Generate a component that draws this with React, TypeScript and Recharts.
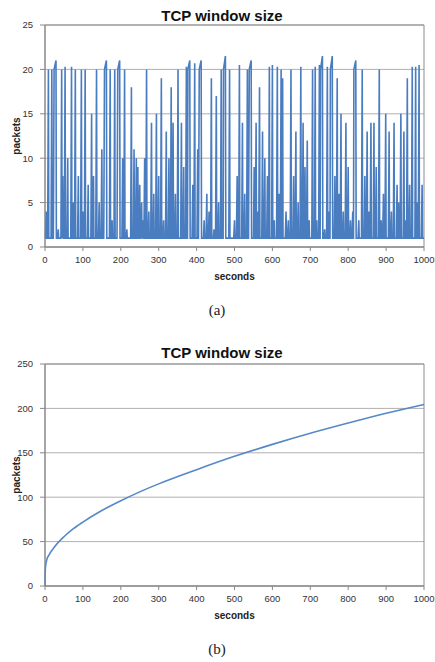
import React from 'react';
import { LineChart, Line, XAxis, YAxis, CartesianGrid, ReferenceArea } from 'recharts';

const secondTicks = [0, 100, 200, 300, 400, 500, 600, 700, 800, 900, 1000];
const packetTicksA = [0, 5, 10, 15, 20, 25];
const packetTicksB = [0, 50, 100, 150, 200, 250];

// (a) congestion window trace: [seconds, packets]
const windowTraceA: [number, number][] = [
  [0, 1], [1, 1], [3, 4], [4, 1], [7, 1], [9, 20], [10, 1], [16, 1], [18, 20], [19, 1],
  [22, 1], [24, 20], [29, 21], [30, 1], [33, 1], [35, 2], [36, 1], [42, 1], [44, 20], [45, 1],
  [47, 8], [48, 1], [51, 1], [53, 20.3], [54, 1], [58, 1], [60, 10], [61, 1], [68, 1], [70, 20.3],
  [71, 1], [73, 1], [75, 5], [76, 1], [78, 1], [80, 20], [81, 1], [86, 1], [88, 8], [89, 1],
  [94, 1], [96, 20], [97, 1], [98, 1], [100, 4], [101, 1], [104, 1], [106, 20], [107, 1], [112, 1],
  [114, 7], [115, 1], [121, 1], [123, 15], [124, 1], [126, 1], [128, 8], [129, 1], [134, 1], [136, 20],
  [137, 1], [141, 1], [143, 5], [144, 1], [148, 1], [150, 11], [151, 1], [155, 1], [157, 20], [162, 21],
  [163, 1], [170, 1], [172, 20], [173, 1], [175, 1], [177, 3], [178, 1], [182, 1], [184, 20], [185, 1],
  [190, 1], [192, 20], [197, 21], [198, 1], [203, 1], [205, 10], [206, 1], [208, 1], [210, 20], [211, 1],
  [214, 1], [216, 2], [217, 1], [226, 1], [228, 18], [229, 1], [233, 1], [235, 11], [236, 1], [239, 1],
  [241, 10], [242, 1], [243, 1], [245, 9], [246, 1], [248, 1], [250, 7], [251, 1], [253, 1], [255, 5],
  [256, 1], [258, 3], [259, 1], [261, 1], [263, 10], [264, 1], [266, 1], [268, 20], [269, 1], [272, 1],
  [274, 4], [275, 1], [279, 1], [281, 14], [282, 1], [285, 1], [287, 6], [288, 1], [292, 1], [294, 15],
  [295, 1], [298, 1], [300, 8], [301, 1], [305, 1], [307, 19], [308, 1], [311, 1], [313, 3], [314, 1],
  [318, 1], [320, 13], [321, 1], [325, 1], [327, 10], [328, 1], [331, 1], [333, 18], [334, 1], [336, 1],
  [338, 14], [339, 1], [342, 1], [344, 6], [345, 1], [349, 1], [351, 20], [352, 1], [358, 1], [360, 14],
  [361, 1], [364, 1], [366, 9], [367, 1], [371, 1], [373, 20.3], [374, 1], [376, 1], [377, 20], [382, 21],
  [383, 1], [388, 1], [390, 7], [391, 1], [393, 1], [395, 20.7], [396, 1], [401, 1], [403, 11], [404, 1],
  [405, 1], [407, 20], [412, 21], [413, 1], [418, 1], [420, 3], [421, 1], [425, 1], [427, 6], [428, 1],
  [431, 1], [433, 4], [434, 1], [437, 1], [439, 19], [440, 1], [444, 1], [446, 2], [447, 1], [450, 1],
  [452, 17], [453, 1], [456, 1], [458, 5], [459, 1], [463, 1], [465, 20], [466, 1], [467, 1], [468, 3],
  [469, 1], [470, 1], [471, 20], [476, 21.5], [477, 1], [485, 1], [487, 20], [488, 1], [498, 1], [500, 3],
  [501, 1], [505, 1], [507, 8], [508, 1], [511, 1], [513, 20.5], [514, 1], [519, 1], [521, 14], [522, 1],
  [525, 1], [527, 6], [528, 1], [532, 1], [534, 20], [535, 1], [537, 1], [539, 20], [544, 21], [545, 1],
  [550, 1], [552, 9], [553, 1], [555, 1], [557, 14], [558, 1], [559, 1], [561, 4], [562, 1], [564, 1],
  [566, 18], [567, 1], [572, 1], [574, 13], [575, 1], [578, 1], [580, 10], [581, 1], [585, 1], [587, 8],
  [588, 1], [590, 1], [592, 20.3], [593, 1], [598, 1], [600, 20.5], [601, 1], [603, 1], [605, 3], [606, 1],
  [611, 1], [613, 20.3], [614, 1], [616, 1], [618, 6], [619, 1], [621, 1], [623, 20], [624, 1], [625, 1],
  [627, 19], [628, 1], [634, 1], [636, 4], [637, 1], [640, 1], [642, 3], [643, 1], [647, 1], [649, 20],
  [650, 1], [654, 1], [656, 8], [657, 1], [660, 1], [662, 13], [663, 1], [666, 1], [668, 5], [669, 1],
  [673, 1], [675, 20.3], [676, 1], [679, 1], [681, 14], [682, 1], [684, 1], [686, 9], [687, 1], [690, 1],
  [692, 12], [693, 1], [695, 1], [697, 3], [698, 1], [704, 1], [706, 20], [707, 1], [711, 1], [713, 20.3],
  [714, 1], [715, 1], [717, 3], [718, 1], [722, 1], [724, 20.5], [725, 1], [726, 1], [727, 20], [732, 21.5],
  [733, 1], [736, 1], [738, 2], [739, 1], [743, 1], [745, 20.3], [746, 1], [749, 1], [750, 4], [751, 1],
  [752, 1], [753, 20], [758, 21.5], [759, 1], [763, 1], [765, 8], [766, 1], [769, 1], [771, 19], [772, 1],
  [774, 1], [776, 6], [777, 1], [779, 1], [781, 15], [782, 1], [785, 1], [787, 4], [788, 1], [792, 1],
  [794, 14], [795, 1], [798, 1], [800, 9], [801, 1], [804, 1], [806, 3], [807, 1], [810, 1], [812, 4],
  [813, 1], [814, 1], [815, 20], [820, 21], [821, 1], [826, 1], [828, 3], [829, 1], [835, 1], [837, 20],
  [838, 1], [842, 1], [844, 8], [845, 1], [848, 1], [850, 13], [851, 1], [853, 1], [855, 4], [856, 1],
  [858, 1], [860, 14], [861, 1], [866, 1], [868, 14], [869, 1], [872, 1], [874, 9], [875, 1], [880, 1],
  [882, 20], [883, 1], [885, 1], [887, 3], [888, 1], [891, 1], [893, 6], [894, 1], [897, 1], [899, 15],
  [900, 1], [906, 1], [908, 13], [909, 1], [912, 1], [914, 4], [915, 1], [919, 1], [921, 14], [922, 1],
  [927, 1], [929, 7], [930, 1], [931, 1], [933, 5], [934, 1], [937, 1], [939, 15], [940, 1], [945, 1],
  [947, 13], [948, 1], [949, 1], [951, 3], [952, 1], [954, 1], [956, 19], [957, 1], [960, 1], [962, 7],
  [963, 1], [967, 1], [969, 20.3], [970, 1], [976, 1], [978, 20.3], [979, 1], [981, 1], [983, 5], [984, 1],
  [985, 1], [987, 20.5], [988, 1], [993, 1], [995, 7], [996, 1], [1000, 1],
];

// (b) smooth window growth
const growthSeconds = [0, 1, 5, 10, 25, 50, 75, 100, 150, 200, 250, 300, 400, 500, 600, 700, 800, 900, 1000];
const growthPackets = [0, 20, 30, 34.5, 44, 55.5, 64.5, 72, 85, 96, 106, 115, 131, 146, 159.5, 172, 183.5, 194.5, 204.5];

const dataA = windowTraceA.map(([s, p]) => ({ s, p }));
const dataB = growthSeconds.map((s, i) => ({ s, p: growthPackets[i] }));

const sans = '"Liberation Sans", Arial, sans-serif';
const tickStyle = { fontSize: 9.5, fill: '#333', fontFamily: sans };
const axisLabelStyle = { fontSize: 10, fontWeight: 'bold' as const, fill: '#222', fontFamily: sans };

function Panel({ data, yTicks, yMax, top, marginTop, marginBottom, strokeWidth, curve, color }: any) {
  return (
    <div style={{ position: 'absolute', left: 0, top, width: 435, height: 300 }}>
      <LineChart width={435} height={300} data={data}
        margin={{ top: marginTop, right: 11, bottom: marginBottom, left: 0 }}>
        <CartesianGrid vertical={false} stroke="#b0b0b0" />
        <ReferenceArea x1={0} x2={1000} y1={0} y2={yMax} fill="none" stroke="#8c8c8c" strokeWidth={1} ifOverflow="visible" />
        <XAxis dataKey="s" type="number" domain={[0, 1000]} ticks={secondTicks} interval={0}
          tick={tickStyle} tickSize={4} tickMargin={5} height={33}
          axisLine={{ stroke: '#888' }} tickLine={{ stroke: '#888' }}
          label={{ value: 'seconds', position: 'insideBottom', offset: 0, style: axisLabelStyle }} />
        <YAxis type="number" domain={[0, yMax]} ticks={yTicks} interval={0} width={45}
          tick={tickStyle} tickSize={5} tickMargin={7}
          axisLine={{ stroke: '#888' }} tickLine={{ stroke: '#888' }}
          label={{ value: 'packets', angle: -90, position: 'insideLeft', offset: 16, style: { ...axisLabelStyle, textAnchor: 'middle' } }} />
        <Line dataKey="p" type={curve} stroke={color} strokeWidth={strokeWidth} dot={false} isAnimationActive={false} />
      </LineChart>
    </div>
  );
}

const titleStyle: React.CSSProperties = {
  position: 'absolute', left: 122, width: 200, textAlign: 'center', fontFamily: sans,
  fontWeight: 'bold', fontSize: 15, lineHeight: '15px', color: '#111',
};
const captionStyle: React.CSSProperties = {
  position: 'absolute', left: 167, width: 100, textAlign: 'center',
  fontFamily: '"Liberation Serif", "Times New Roman", serif', fontSize: 15, lineHeight: '18px', color: '#222',
};

export default function App() {
  return (
    <div style={{ position: 'absolute', left: 0, top: 0, width: 435, height: 662, background: '#fff' }}>
      <Panel data={dataA} yTicks={packetTicksA} yMax={25} top={0} marginTop={25} marginBottom={20} strokeWidth={1.6} curve="linear" color="#4a7cc0" />
      <div style={{ ...titleStyle, top: 8 }}>TCP window size</div>
      <div style={{ ...captionStyle, top: 301 }}>(a)</div>
      <Panel data={dataB} yTicks={packetTicksB} yMax={250} top={330} marginTop={34} marginBottom={11} strokeWidth={1.6} curve="monotone" color="#5588c8" />
      <div style={{ ...titleStyle, top: 345 }}>TCP window size</div>
      <div style={{ ...captionStyle, top: 640 }}>(b)</div>
    </div>
  );
}
